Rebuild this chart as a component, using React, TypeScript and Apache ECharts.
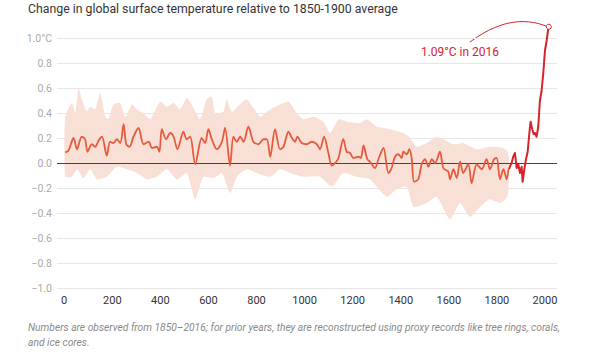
import React, { useEffect, useRef } from "react";
import * as echarts from "echarts";

const TITLE = "Change in global surface temperature relative to 1850-1900 average";
const FOOTNOTE =
  "Numbers are observed from 1850–2016; for prior years, they are reconstructed using proxy records like tree rings, corals,\nand ice cores.";
const ANNOTATION = "1.09°C in 2016";

const xTicks = [0, 200, 400, 600, 800, 1000, 1200, 1400, 1600, 1800, 2000];

const reconYears = [
  4, 18, 39, 53, 73, 87, 97, 115, 129, 143, 157, 177, 191, 205, 219, 233, 247, 258, 272, 288,
  309, 330, 351, 365, 385, 396, 406, 424, 441, 455, 471, 496, 510, 524, 545, 572, 586, 600, 614, 635,
  656, 669, 690, 704, 718, 732, 746, 766, 787, 808, 829, 843,
  857, 877, 898, 912, 933, 947, 960, 970, 988, 1009, 1030, 1051, 1064, 1081, 1099, 1113, 1127, 1141,
  1161, 1175, 1189, 1203, 1224, 1234, 1245, 1261, 1272, 1293, 1307, 1328, 1349, 1362, 1376, 1390,
  1404, 1411, 1425, 1436, 1446, 1455, 1473, 1487, 1501, 1515, 1529, 1543, 1563, 1577, 1598, 1605,
  1619, 1633, 1647, 1660, 1681, 1695, 1716, 1737, 1757, 1771, 1788, 1799, 1813, 1827, 1841, 1848,
];
const reconValues = [
  0.085, 0.1, 0.2, 0.11, 0.21, 0.19, 0.09, 0.15, 0.13, 0.18, 0.21, 0.06, 0.17, 0.16, 0.19, 0.16, 0.31, 0.15, 0.13, 0.21,
  0.28, 0.15, 0.17, 0.12, 0.13, 0.09, 0.27, 0.19, 0.24, 0.21, 0.11, 0.25, 0.19, 0.21, -0.01, 0.2, 0.16, 0.27, 0.19, 0.11,
  0.17, 0.28, -0.02, 0.21, 0.17, 0.21, 0.17, 0.29, 0.17, 0.15, 0.19, 0.19,
  0.05, 0.27, 0.11, 0.13, 0.25, 0.2, 0.17, 0.21, 0.16, 0.15, 0.17, 0.15, 0.11, 0.21, 0.08, -0.02, 0.0, 0.04,
  0.19, 0.09, 0.08, 0.04, 0.05, 0.04, 0.14, 0.03, 0.01, -0.04, 0.03, 0.12, -0.08, -0.04, 0.05, 0.07,
  0.04, 0.09, 0.07, 0.11, 0.03, -0.15, -0.13, -0.01, 0.03, -0.03, 0.03, 0.0, 0.09, -0.04, -0.07, -0.13,
  -0.05, -0.12, 0.01, -0.08, -0.01, -0.16, -0.01, -0.05, 0.03, -0.05, 0.03, 0.04, -0.13, -0.05, -0.13, -0.05,
];

const obsYears = [
  1850, 1854, 1861, 1868, 1875, 1882, 1889, 1896, 1903, 1907, 1914, 1921, 1928, 1935, 1940, 1947, 1953, 1958,
  1965, 1972, 1979, 1986, 1993, 2000, 2007, 2014, 2016,
];
const obsValues = [
  -0.05, -0.03, 0.0, 0.05, 0.08, -0.04, -0.01, -0.08, -0.03, -0.15, -0.05, 0.03, 0.09, 0.24, 0.33, 0.27, 0.23, 0.24,
  0.21, 0.29, 0.5, 0.58, 0.72, 0.9, 0.98, 1.08, 1.09,
];

const bandUpper = [
  [4, 0.37], [32, 0.48], [46, 0.4], [60, 0.6], [73, 0.51], [94, 0.41], [108, 0.45], [129, 0.43], [150, 0.56],
  [171, 0.37], [184, 0.35], [205, 0.47], [233, 0.48], [254, 0.37], [282, 0.47], [302, 0.43], [330, 0.4],
  [358, 0.35], [399, 0.49], [427, 0.45], [455, 0.48], [482, 0.43], [510, 0.52], [538, 0.44], [565, 0.35],
  [593, 0.51], [614, 0.53], [628, 0.4], [662, 0.41], [676, 0.51], [697, 0.41], [732, 0.47], [759, 0.51],
  [787, 0.44], [815, 0.37], [843, 0.41], [877, 0.45], [933, 0.49], [967, 0.4], [995, 0.35], [1037, 0.37],
  [1078, 0.33], [1106, 0.24], [1141, 0.35], [1175, 0.33], [1231, 0.32], [1259, 0.35], [1300, 0.29],
  [1328, 0.28], [1355, 0.27], [1411, 0.24], [1439, 0.2], [1466, 0.13], [1508, 0.16], [1549, 0.21],
  [1577, 0.19], [1619, 0.15], [1660, 0.16], [1716, 0.11], [1771, 0.13], [1827, 0.12], [1848, 0.08],
];
const bandLower = [
  [4, -0.11], [32, -0.11], [53, -0.05], [80, -0.12], [108, -0.05], [136, -0.13], [177, -0.11], [219, -0.03],
  [261, -0.05], [302, -0.08], [344, -0.13], [385, -0.11], [427, -0.05], [469, -0.13], [510, -0.08],
  [545, -0.29], [579, -0.11], [621, -0.12], [656, -0.08], [690, -0.24], [718, -0.11], [759, -0.05],
  [801, -0.08], [857, -0.11], [898, -0.05], [940, -0.08], [995, -0.11], [1064, -0.11], [1113, -0.19],
  [1161, -0.08], [1217, -0.11], [1272, -0.13], [1341, -0.27], [1383, -0.21], [1425, -0.19], [1453, -0.35],
  [1508, -0.32], [1549, -0.27], [1605, -0.45], [1647, -0.32], [1688, -0.43], [1730, -0.35], [1771, -0.29],
  [1813, -0.32], [1841, -0.28], [1848, -0.21],
];

const FONT = "Roboto, 'Noto Sans', sans-serif";
const RED = "#d9232a";
const ORANGE = "#e65a3e";
const BAND = "#f9e0d6";

export default function App() {
  const ref = useRef<HTMLDivElement>(null);
  useEffect(() => {
    if (!ref.current) return;
    const chart = echarts.init(ref.current, null, { renderer: "svg" });
    const recon = reconYears.map((y, i) => [y, reconValues[i]]);
    const obs = obsYears.map((y, i) => [y, obsValues[i]]);
    const lastIdx = obsYears.length - 1;
    chart.setOption({
      animation: false,
      textStyle: { fontFamily: FONT },
      grid: { left: 57, right: 45, top: 38, bottom: 64, containLabel: false },
      xAxis: {
        type: "value",
        min: -30,
        max: 2050,
        axisLine: { show: false },
        axisTick: { show: false },
        splitLine: { show: false },
        axisLabel: {
          customValues: xTicks,
          color: "#333",
          fontSize: 11,
          margin: 7,
          fontFamily: FONT,
          formatter: (v: number) => String(Math.round(v)),
        },
      },
      yAxis: {
        type: "value",
        min: -1,
        max: 1,
        interval: 0.2,
        axisLine: { show: false },
        axisTick: { show: false },
        splitLine: { lineStyle: { color: "#e6e6e6", width: 1 } },
        axisLabel: {
          color: "#aaa",
          fontSize: 10.5,
          margin: 5,
          fontFamily: FONT,
          formatter: (v: number) => {
            const r = Math.round(v * 10) / 10;
            if (r === 1) return "1.0°C";
            if (r < 0) return "\u2212" + Math.abs(r).toFixed(1);
            return r.toFixed(1);
          },
        },
      },
      series: [
        {
          type: "custom",
          data: [[1000, 0]],
          silent: true,
          z: 1,
          renderItem: (params: any, api: any) => {
            const pts = bandUpper
              .map((p) => api.coord(p))
              .concat(bandLower.slice().reverse().map((p) => api.coord(p)));
            return { type: "polygon", shape: { points: pts, smooth: 0.2 }, style: { fill: BAND } };
          },
        },
        {
          type: "line",
          data: recon,
          showSymbol: false,
          symbol: "none",
          smooth: 0.3,
          z: 3,
          lineStyle: { color: ORANGE, width: 1.8, join: "round" },
          markLine: {
            silent: true,
            symbol: "none",
            label: { show: false },
            lineStyle: { color: "#444", width: 1, type: "solid" },
            data: [{ yAxis: 0 }],
            z: 2,
          },
        },
        {
          type: "line",
          data: obs,
          showSymbol: false,
          symbol: "none",
          clip: false,
          z: 4,
          lineStyle: { color: RED, width: 2, join: "round" },
        },
        {
          type: "scatter",
          data: [[obsYears[lastIdx], obsValues[lastIdx]]],
          clip: false,
          silent: true,
          z: 5,
          symbol: "circle",
          symbolSize: 5,
          itemStyle: { color: "#fff", borderColor: RED, borderWidth: 1, opacity: 1 },
        },
      ],
      graphic: [
        {
          type: "text",
          left: 28,
          top: 3,
          style: { text: TITLE, fill: "#333", fontSize: 12.3, fontFamily: FONT },
        },
        {
          type: "text",
          x: 460,
          y: 52,
          style: {
            text: ANNOTATION,
            fill: RED,
            fontSize: 12,
            fontFamily: FONT,
            align: "center",
            verticalAlign: "middle",
          },
        },
        {
          type: "bezierCurve",
          shape: { x1: 470, y1: 42, cpx1: 505, cpy1: 16, cpx2: 530, cpy2: 20, x2: 546, y2: 26 },
          style: { stroke: RED, lineWidth: 1, fill: "none" },
        },
        {
          type: "text",
          left: 28,
          top: 320,
          style: {
            text: FOOTNOTE,
            fill: "#8a8a8a",
            fontSize: 10.25,
            fontStyle: "italic",
            fontFamily: FONT,
            lineHeight: 15,
          },
        },
      ],
    });
    return () => chart.dispose();
  }, []);
  return (
    <div
      ref={ref}
      style={{ position: "absolute", left: 0, top: 0, width: 602, height: 352 }}
    />
  );
}
